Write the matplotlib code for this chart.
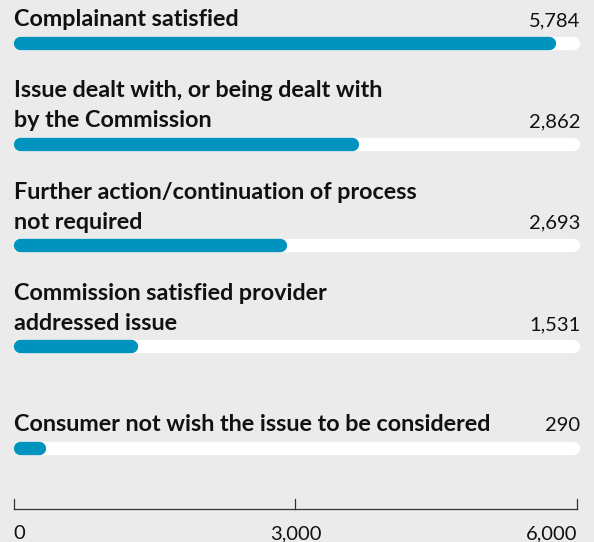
"""Horizontal rounded bar chart of complaint outcomes."""

import matplotlib.pyplot as plt

# data
categories = [
    "Complainant satisfied",
    "Issue dealt with, or being dealt with\nby the Commission",
    "Further action/continuation of process\nnot required",
    "Commission satisfied provider\naddressed issue",
    "Consumer not wish the issue to be considered",
]
value_labels = ["5,784", "2,862", "2,693", "1,531", "290"]
# bar lengths as drawn in the picture (they do not follow the printed values)
bar_lengths = [5770, 3670, 2905, 1320, 340]
tick_values = [0, 3000, 6000]
tick_labels = ["0", "3,000", "6,000"]
track_max = 6030

BG = "#ebebeb"
BAR = "#0093be"
TEXT = "#111111"

W, H, DPI = 594, 542, 100
X0_PX, X6000_PX = 13.6, 577.3  # pixel position of 0 and 6000
BAR_PX = 13.3  # bar thickness in pixels

fig = plt.figure(figsize=(W / DPI, H / DPI), dpi=DPI, facecolor=BG)
ax = fig.add_axes([0, 0, 1, 1])
ax.set_facecolor(BG)
units_per_px = 6000 / (X6000_PX - X0_PX)
ax.set_xlim(-X0_PX * units_per_px, (W - X0_PX) * units_per_px)
ax.set_ylim(H, 0)
ax.axis("off")

lw = BAR_PX * 72 / DPI
cap = BAR_PX / 2 * units_per_px


def rounded_bar(y, start, end, color):
    ax.plot([start + cap, max(end - cap, start + cap)], [y, y], color=color,
            linewidth=lw, solid_capstyle="round")


bold = dict(family="Lato", weight="bold", size=16.8, color=TEXT)
regular = dict(family="Lato", size=14.5, color=TEXT)

for i, (label, val, length) in enumerate(zip(categories, value_labels, bar_lengths)):
    track_y = 42.5 + i * 101.3
    base = track_y - 16.5
    rounded_bar(track_y, 0, track_max, "white")
    rounded_bar(track_y, 0, length, BAR)
    lines = label.split("\n")
    for j, line in enumerate(reversed(lines)):
        ax.text(0, base - j * 30, line, va="baseline", ha="left", **bold)
    ax.text(track_max, base, val, va="baseline", ha="right", **regular)

# axis at the bottom
axis_y = 508.7
ax.plot([0, 6000], [axis_y, axis_y], color="#333333", linewidth=0.9)
for t, tl in zip(tick_values, tick_labels):
    ax.plot([t, t], [axis_y, axis_y - 9.4], color="#333333", linewidth=0.9)
    ha = "left" if t == tick_values[0] else ("right" if t == tick_values[-1] else "center")
    ax.text(t, 539, tl, va="baseline", ha=ha, **regular)

fig.savefig("out.png", dpi=DPI, facecolor=BG)
